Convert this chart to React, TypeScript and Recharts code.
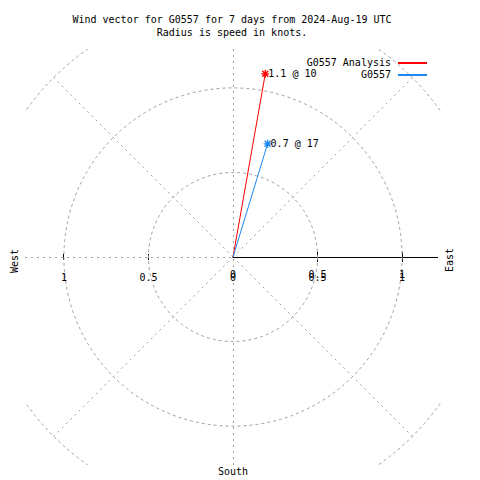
import React from "react";
import { ScatterChart, Scatter, XAxis, YAxis, ReferenceLine, ReferenceDot, Legend } from "recharts";

const titleLines = ["Wind vector for G0557 for 7 days from 2024-Aug-19 UTC", "Radius is speed in knots."];
const seriesNames = ["G0557 Analysis", "G0557"];
const speeds = [1.1, 0.7];
const directions = [10, 17];
const colors = ["#ff0000", "#1e88f0"];
const rings = [0.5, 1, 1.5];
const spokes = [45, 135, 225, 315];
const gridTicks = [-1, -0.5, 0, 0.5, 1];
const axisTicks = [0, 0.5, 1];
const axisEnd = 1.213;

const W = 480;
const H = 480;
const M = { top: 49, right: 39, bottom: 15, left: 25 };
const LIM = 1.23;
const PX = (W - M.left - M.right) / (2 * LIM);
const FONT = "'DejaVu Sans Mono', monospace";
const GRID = "#a0a0a0";
const CRISP = "crispEdges";

const rad = (d: number) => (d * Math.PI) / 180;
const vectors = speeds.map((s, i) => [
  { x: 0, y: 0 },
  { x: s * Math.sin(rad(directions[i])), y: s * Math.cos(rad(directions[i])), text: `${s} @ ${directions[i]}` },
]);

const star = (color: string) => (p: any) => {
  if (!p.payload || !p.payload.text) return <g />;
  const { cx, cy } = p;
  return (
    <g>
      <path
        d={`M${cx - 4},${cy}H${cx + 4}M${cx},${cy - 4}V${cy + 4}M${cx - 3},${cy - 3}L${cx + 3},${cy + 3}M${cx - 3},${cy + 3}L${cx + 3},${cy - 3}`}
        stroke={color}
        strokeWidth={1.3}
      />
      <text x={cx + 3} y={cy} dominantBaseline="central" fontFamily={FONT} fontSize={10} fill="#000">
        {p.payload.text}
      </text>
    </g>
  );
};

const textAt = (content: string, dx: number, dy: number, rotate = false) => (p: any) => {
  const x = p.cx + dx;
  const y = p.cy + dy;
  return (
    <text
      x={x}
      y={y}
      textAnchor="middle"
      dominantBaseline="central"
      fontFamily={FONT}
      fontSize={10}
      fill="#000"
      transform={rotate ? `rotate(-90 ${x} ${y})` : undefined}
    >
      {content}
    </text>
  );
};

// rings are clipped to the square plot box, like the outer 1.5 ring in the reference
const ring = (r: number) => (p: any) => {
  const half = LIM * PX;
  const id = `ring-clip-${r}`;
  return (
    <g>
      <defs>
        <clipPath id={id}>
          <rect x={p.cx - half} y={p.cy - half} width={2 * half} height={2 * half} />
        </clipPath>
      </defs>
      <circle
        cx={p.cx}
        cy={p.cy}
        r={r * PX}
        fill="none"
        stroke={GRID}
        strokeDasharray="3 3"
        clipPath={`url(#${id})`}
      />
    </g>
  );
};

const LegendBox = () => (
  <div style={{ position: "relative", width: W, height: 24, fontFamily: FONT, fontSize: 10, color: "#000" }}>
    {seriesNames.map((n, i) => (
      <div key={n} style={{ position: "absolute", top: i * 12, left: 0, width: W, height: 12 }}>
        <span style={{ position: "absolute", right: W - 391, top: 0, lineHeight: "12px", whiteSpace: "pre" }}>{n}</span>
        <div
          style={{
            position: "absolute",
            left: 398,
            top: 5,
            width: 29,
            height: 2,
            backgroundColor: colors[i],
          }}
        />
      </div>
    ))}
  </div>
);

export default function App() {
  return (
    <div style={{ position: "absolute", left: 0, top: 0, width: W, height: H, background: "#fff" }}>
      <div
        style={{
          position: "absolute",
          top: 13,
          left: 0,
          width: 464,
          textAlign: "center",
          fontFamily: FONT,
          fontSize: 10,
          lineHeight: "13px",
          whiteSpace: "pre",
          zIndex: 2,
        }}
      >
        {titleLines.map((t) => (
          <div key={t}>{t}</div>
        ))}
      </div>
      <ScatterChart width={W} height={H} margin={M}>
        <XAxis type="number" dataKey="x" domain={[-LIM, LIM]} hide allowDataOverflow />
        <YAxis type="number" dataKey="y" domain={[-LIM, LIM]} hide allowDataOverflow />
        {rings.map((r) => (
          <ReferenceDot key={`ring-${r}`} x={0} y={0} r={0} ifOverflow="visible" shape={ring(r)} />
        ))}
        {spokes.map((a) => (
          <ReferenceLine
            key={`spoke-${a}`}
            segment={[
              { x: 0, y: 0 },
              { x: 1.5 * Math.sin(rad(a)), y: 1.5 * Math.cos(rad(a)) },
            ]}
            stroke={GRID}
            strokeDasharray="2 4"
            ifOverflow="visible"
          />
        ))}
        <ReferenceLine x={0} stroke={GRID} strokeDasharray="2 4" shapeRendering={CRISP} />
        <ReferenceLine segment={[{ x: -LIM, y: 0 }, { x: 0, y: 0 }]} stroke={GRID} strokeDasharray="2 4" shapeRendering={CRISP} />
        <ReferenceLine segment={[{ x: 0, y: 0 }, { x: axisEnd, y: 0 }]} stroke="#000" ifOverflow="visible" shapeRendering={CRISP} />
        {gridTicks.filter((t) => t !== 0).map((t) => (
          <ReferenceLine key={`gt-${t}`} segment={[{ x: t, y: -0.018 }, { x: t, y: 0.018 }]} stroke="#000" shapeRendering={CRISP} />
        ))}
        {axisTicks.filter((t) => t !== 0).map((t) => (
          <ReferenceLine key={`at-${t}`} segment={[{ x: t, y: -0.03 }, { x: t, y: 0.03 }]} stroke="#000" shapeRendering={CRISP} />
        ))}
        {gridTicks.map((t) => (
          <ReferenceDot key={`gl-${t}`} x={t} y={0} r={0} ifOverflow="visible" shape={textAt(String(Math.abs(t)), 0, 20)} />
        ))}
        {axisTicks.map((t) => (
          <ReferenceDot key={`al-${t}`} x={t} y={0} r={0} ifOverflow="visible" shape={textAt(String(t), 0, 17)} />
        ))}
        <ReferenceDot x={-LIM} y={0} r={0} ifOverflow="visible" shape={textAt("West", -11, 4, true)} />
        <ReferenceDot x={LIM} y={0} r={0} ifOverflow="visible" shape={textAt("East", 8, 3, true)} />
        <ReferenceDot x={0} y={-LIM} r={0} ifOverflow="visible" shape={textAt("South", 0, 6)} />
        {vectors.map((d, i) => (
          <Scatter
            key={seriesNames[i]}
            name={seriesNames[i]}
            data={d}
            fill={colors[i]}
            line={{ stroke: colors[i], strokeWidth: 1 }}
            shape={star(colors[i])}
            legendType="line"
            isAnimationActive={false}
          />
        ))}
        <Legend
          layout="vertical"
          align="center"
          verticalAlign="middle"
          wrapperStyle={{ top: 57, left: 0, width: W }}
          content={() => <LegendBox />}
        />
      </ScatterChart>
    </div>
  );
}
